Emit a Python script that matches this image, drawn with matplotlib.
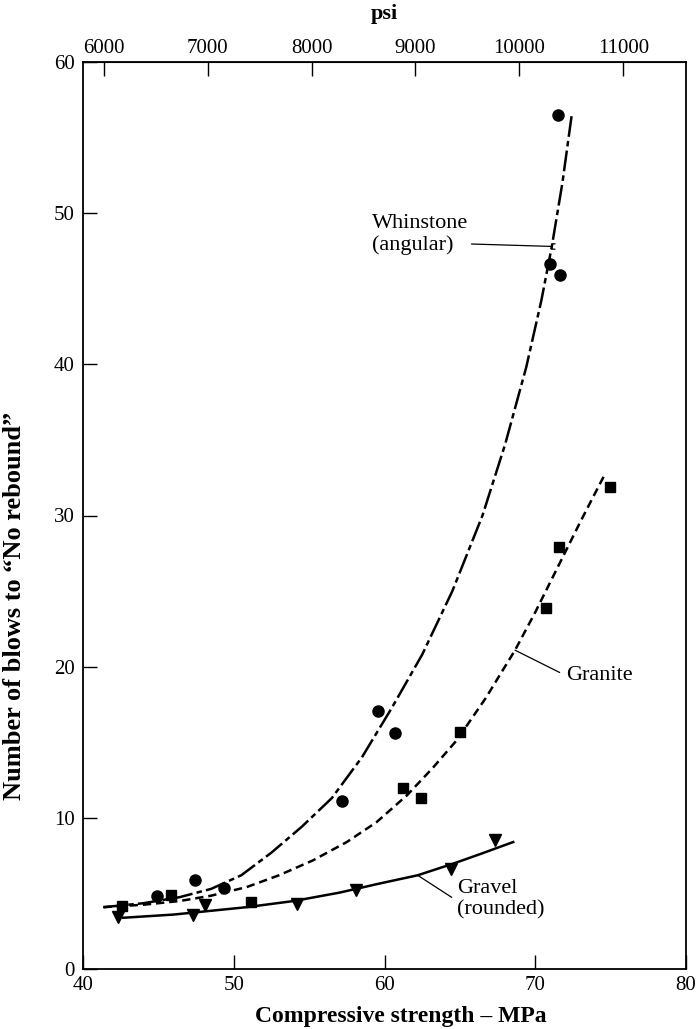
import matplotlib
matplotlib.use("Agg")
import matplotlib.pyplot as plt

plt.rcParams['font.family'] = ['Liberation Serif', 'DejaVu Serif']
plt.rcParams['lines.scale_dashes'] = False

# Observed data points (MPa, blows)
whin_x = [44.93, 47.43, 49.35, 57.21, 59.55, 60.70, 70.98, 71.64, 71.49]
whin_y = [4.80, 5.86, 5.35, 11.09, 17.07, 15.58, 46.66, 45.88, 56.52]
gran_x = [42.57, 45.82, 51.12, 61.25, 62.40, 65.03, 70.69, 71.60, 74.96]
gran_y = [4.16, 4.87, 4.42, 11.97, 11.31, 15.68, 23.85, 27.93, 31.91]
grav_x = [42.34, 47.32, 48.09, 54.18, 58.11, 64.41, 67.33]
grav_y = [3.43, 3.54, 4.21, 4.27, 5.20, 6.64, 8.51]

# Fitted curves
whin_cx = [41.35, 44.0, 46.4, 48.5, 50.5, 52.5, 54.5, 56.5, 58.5, 60.5, 62.5,
           64.5, 66.5, 68.0, 69.4, 70.4, 71.1, 71.8, 72.42]
whin_cy = [4.09, 4.35, 4.75, 5.3, 6.2, 7.7, 9.4, 11.3, 14.0, 17.3, 20.8,
           25.0, 30.0, 34.7, 39.8, 44.2, 47.8, 52.0, 56.5]
gran_cx = [41.35, 44.0, 46.43, 48.5, 50.86, 53.0, 55.26, 57.5, 59.48, 61.5,
           63.2, 64.79, 66.7, 68.66, 70.0, 71.5, 73.0, 74.67]
gran_cy = [4.09, 4.25, 4.5, 4.85, 5.42, 6.2, 7.19, 8.4, 9.72, 11.5,
           13.3, 15.13, 17.9, 21.09, 23.6, 26.6, 29.6, 32.83]
grav_cx = [42.67, 46.0, 50.86, 54.0, 57.0, 59.7, 62.2, 64.5, 66.34, 68.54]
grav_cy = [3.39, 3.6, 4.09, 4.5, 5.05, 5.66, 6.2, 6.95, 7.6, 8.4]

x_ticks = [40, 50, 60, 70, 80]
y_ticks = [0, 10, 20, 30, 40, 50, 60]
psi_ticks = [6000, 7000, 8000, 9000, 10000, 11000]
PSI_TO_MPA = 0.006895

fig = plt.figure(figsize=(6.98, 10.29), dpi=100)
ax = fig.add_axes([83/698, 1-969/1029, (686-83)/698, (969-62)/1029])

ax.plot(whin_cx, whin_cy, color='black', lw=1.8, dashes=(15, 3, 4, 3))
ax.plot(gran_cx, gran_cy, color='black', lw=1.8, dashes=(6, 3.5))
ax.plot(grav_cx, grav_cy, color='black', lw=1.8, ls='-')

ax.plot(whin_x, whin_y, 'o', color='black', ms=8, ls='none')
ax.plot(gran_x, gran_y, 's', color='black', ms=6.5, ls='none')
ax.plot(grav_x, grav_y, 'v', color='black', ms=8, ls='none')

ax.set_xlim(40, 80)
ax.set_ylim(0, 60)
ax.set_xticks(x_ticks)
ax.set_yticks(y_ticks)
ax.tick_params(axis='both', direction='in', length=10, width=1.0, labelsize=15,
               top=False, right=False)
ax.tick_params(axis='x', pad=5)
ax.tick_params(axis='y', pad=6)
for s in ax.spines.values():
    s.set_linewidth(1.3)

ax.set_xlabel('Compressive strength \u2013 MPa', fontsize=17, fontweight='bold')
ax.xaxis.set_label_coords(0.527, -0.041)
ax.set_ylabel('Number of blows to \u201cNo rebound\u201d', fontsize=19, fontweight='bold')
ax.yaxis.set_label_coords(-0.094, 0.40)

sec = ax.secondary_xaxis('top', functions=(lambda m: m / PSI_TO_MPA, lambda p: p * PSI_TO_MPA))
sec.set_xticks(psi_ticks)
sec.tick_params(direction='in', length=10, width=1.0, labelsize=15, pad=3)
sec.set_xlabel('psi', fontsize=16, fontweight='bold', labelpad=14)

# Annotations
ann_kw = dict(fontsize=16, ha='left', va='center', linespacing=1.15)
ax.annotate('Whinstone\n(angular)', xy=(71.09, 47.8), xytext=(59.2, 48.6), **ann_kw,
            arrowprops=dict(arrowstyle='-[,widthB=0.12,lengthB=0.15', lw=0.9, color='black',
                            shrinkA=0, shrinkB=0, relpos=(0.94, 0.27)))
ax.annotate('Granite', xy=(68.66, 21.09), xytext=(72.05, 19.4), **ann_kw,
            arrowprops=dict(arrowstyle='-', lw=0.9, color='black', shrinkA=3, shrinkB=0,
                            relpos=(0.0, 0.5)))
ax.annotate('Gravel\n(rounded)', xy=(62.2, 6.2), xytext=(64.8, 4.6), **ann_kw,
            arrowprops=dict(arrowstyle='-', lw=0.9, color='black', shrinkA=2, shrinkB=0,
                            relpos=(0.0, 0.47)))

fig.savefig('out.png', dpi=100)
